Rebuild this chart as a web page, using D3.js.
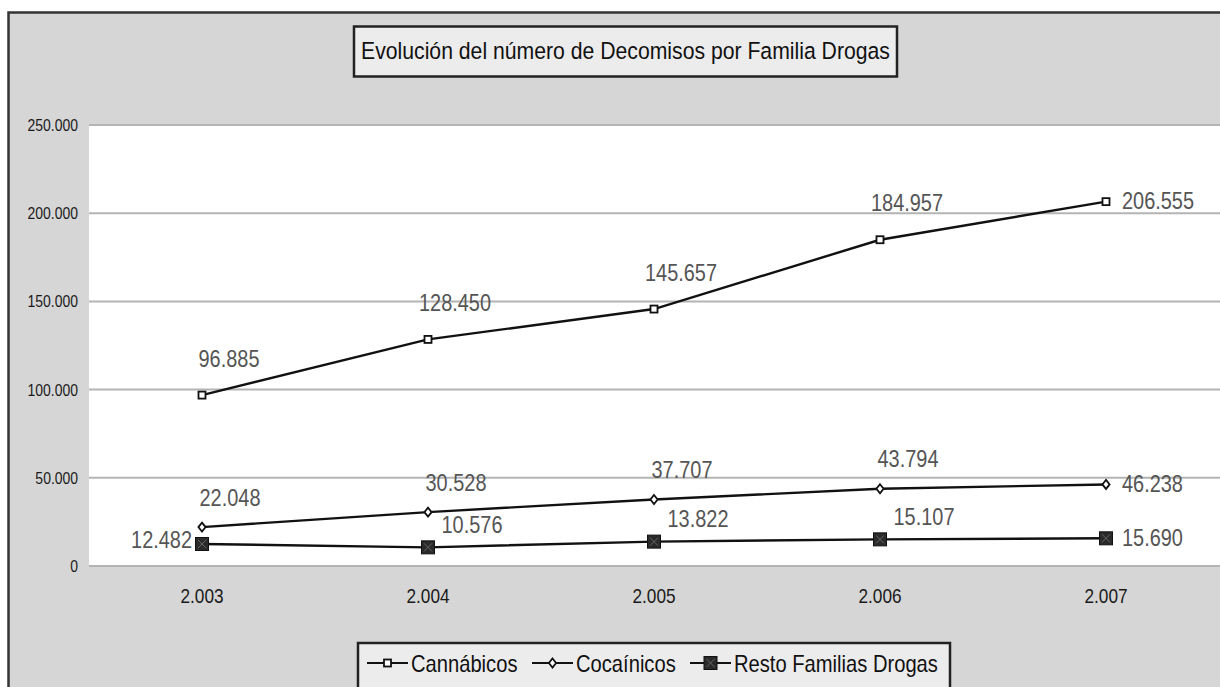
<!DOCTYPE html>
<html><head><meta charset="utf-8">
<script src="https://cdn.jsdelivr.net/npm/d3@7"></script>
<style>
html,body{margin:0;padding:0;background:#fff;}
svg{display:block;}
text{font-family:'Liberation Sans Narrow','Arial Narrow','Liberation Sans',Arial,sans-serif;}
</style></head>
<body>
<svg id="chart" width="1220" height="687"></svg>
<script>
const years = ["2.003","2.004","2.005","2.006","2.007"];
const cannabicos = [96885,128450,145657,184957,206555];
const cocainicos = [22048,30528,37707,43794,46238];
const resto = [12482,10576,13822,15107,15690];
const seriesNames = ["Cannábicos","Cocaínicos","Resto Familias Drogas"];
const yTicks = [0,50000,100000,150000,200000,250000];
const title = "Evolución del número de Decomisos por Familia Drogas";

const svg = d3.select("#chart");
const W = 1220, H = 687;
const plot = {left:89, top:125, right:1219, bottom:566};
const FONT = "'Liberation Sans Narrow','Arial Narrow','Liberation Sans',Arial,sans-serif";

const loc = d3.formatLocale({decimal:",", thousands:".", grouping:[3], currency:["",""]});
const fmt = loc.format(",");

// condense text to emulate a narrow typeface when one is not installed
function narrow(sel, factor){
  sel.each(function(){
    const len = this.getComputedTextLength();
    d3.select(this).attr("textLength", len*factor).attr("lengthAdjust","spacingAndGlyphs");
  });
}

// outer frame
svg.append("rect").attr("x",8.5).attr("y",12.5).attr("width",W+20).attr("height",H+20)
  .attr("fill","#d6d6d6").attr("stroke","#333").attr("stroke-width",2.5);

// plot area
svg.append("rect").attr("x",plot.left).attr("y",plot.top)
  .attr("width",plot.right-plot.left+10).attr("height",plot.bottom-plot.top)
  .attr("fill","#fff");

const x = d3.scaleBand().domain(years).range([plot.left, plot.right]);
const y = d3.scaleLinear().domain([0,250000]).range([plot.bottom, plot.top]);
const cx = d => x(d) + x.bandwidth()/2;

// gridlines
svg.append("g").selectAll("line").data(yTicks).join("line")
  .attr("x1",plot.left).attr("x2",W)
  .attr("y1",d=>y(d)).attr("y2",d=>y(d))
  .attr("stroke","#b4b4b4").attr("stroke-width",2);

// y axis labels
const yAxis = d3.axisLeft(y).tickValues(yTicks).tickFormat(fmt).tickSize(0).tickPadding(0);
const gy = svg.append("g").attr("transform",`translate(78,0)`).call(yAxis);
gy.select(".domain").remove();
gy.selectAll("text").attr("font-size",17).attr("fill","#1a1a1a").style("font-family",FONT);
narrow(gy.selectAll("text"), 0.82);

// x axis labels
const xAxis = d3.axisBottom(x).tickSize(0).tickPadding(0);
const gx = svg.append("g").attr("transform",`translate(0,${plot.bottom+22})`).call(xAxis);
gx.select(".domain").remove();
gx.selectAll("text").attr("font-size",21).attr("fill","#1a1a1a").attr("dy","0.71em").style("font-family",FONT);
narrow(gx.selectAll("text"), 0.82);

// series
const series = [
  {name:seriesNames[0], values:cannabicos, marker:"square", lab:{dx:27, dy:-37}},
  {name:seriesNames[1], values:cocainicos, marker:"diamond", lab:{dx:28, dy:-30}},
  {name:seriesNames[2], values:resto, marker:"xsquare", lab:{dx:44, dy:-23}}
];

const line = d3.line().x(d=>cx(d.year)).y(d=>y(d.v));

function drawMarker(g, type, px, py){
  if(type==="square"){
    g.append("rect").attr("x",px-3.5).attr("y",py-3.5).attr("width",7).attr("height",7)
      .attr("fill","#fff").attr("stroke","#111").attr("stroke-width",1.8);
  } else if(type==="diamond"){
    const s=4.5;
    g.append("path").attr("d",`M${px},${py-s}L${px+s*0.8},${py}L${px},${py+s}L${px-s*0.8},${py}Z`)
      .attr("fill","#fff").attr("stroke","#111").attr("stroke-width",1.8);
  } else {
    g.append("rect").attr("x",px-6.5).attr("y",py-6.5).attr("width",13).attr("height",13)
      .attr("fill","#2a2a2a").attr("stroke","#111").attr("stroke-width",1);
    g.append("path").attr("d",`M${px-4},${py-4}L${px+4},${py+4}M${px+4},${py-4}L${px-4},${py+4}`)
      .attr("stroke","#666").attr("stroke-width",1);
  }
}

series.forEach((s,si)=>{
  const pts = s.values.map((v,i)=>({year:years[i], v}));
  svg.append("path").datum(pts).attr("d",line).attr("fill","none")
    .attr("stroke","#111").attr("stroke-width",2.4);
  const g = svg.append("g");
  pts.forEach(p=>drawMarker(g, s.marker, cx(p.year), y(p.v)));
  const lg = svg.append("g");
  pts.forEach((p,i)=>{
    const px = cx(p.year), py = y(p.v);
    let tx, ty, anchor;
    if(i===pts.length-1){ tx = px+16; ty = py-1; anchor="start"; }
    else if(si===2 && i===0){ tx = px-10; ty = py-5; anchor="end"; }
    else { tx = px+s.lab.dx; ty = py+s.lab.dy; anchor="middle"; }
    lg.append("text").attr("x",tx).attr("y",ty).attr("dy","0.36em")
      .attr("text-anchor",anchor).attr("font-size",24).attr("fill","#555")
      .text(fmt(p.v));
  });
  narrow(lg.selectAll("text"), 0.83);
});

// title box
svg.append("rect").attr("x",354).attr("y",26.5).attr("width",543).attr("height",50)
  .attr("fill","#ececec").attr("stroke","#222").attr("stroke-width",2.5);
const tt = svg.append("text").attr("x",625.5).attr("y",50.5).attr("dy","0.36em").attr("text-anchor","middle")
  .attr("font-size",24.5).attr("fill","#111").text(title);
narrow(tt, 0.865);

// legend
const legX = 358, legY = 643;
svg.append("rect").attr("x",legX).attr("y",legY).attr("width",592).attr("height",60)
  .attr("fill","#ececec").attr("stroke","#222").attr("stroke-width",2.5);
const legItems = [
  {s:series[0], lx:367},
  {s:series[1], lx:532},
  {s:series[2], lx:690}
];
const lgd = svg.append("g");
legItems.forEach(it=>{
  const ly = 663;
  lgd.append("line").attr("x1",it.lx).attr("x2",it.lx+41).attr("y1",ly).attr("y2",ly)
    .attr("stroke","#111").attr("stroke-width",2.2);
  drawMarker(lgd, it.s.marker, it.lx+20.5, ly);
  const t = lgd.append("text").attr("x",it.lx+44).attr("y",ly).attr("dy","0.36em")
    .attr("font-size",24).attr("fill","#111").text(it.s.name);
  narrow(t, 0.84);
});
</script>
</body></html>
